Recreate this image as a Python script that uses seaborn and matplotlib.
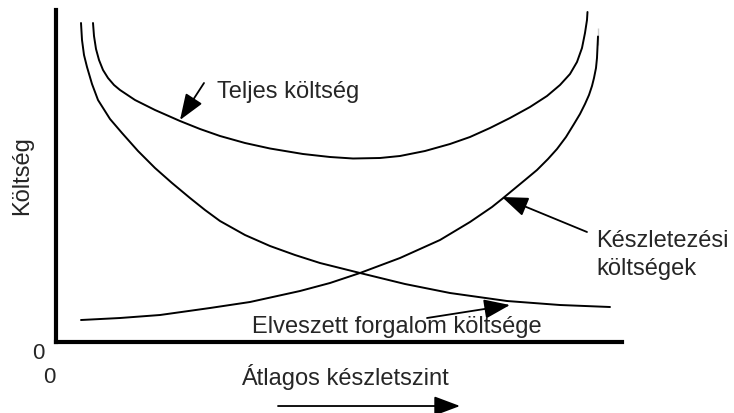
import matplotlib
matplotlib.use('Agg')
import matplotlib.pyplot as plt
import seaborn as sns

# curve values
# x: average inventory level (0-566), y: cost (0-332), arbitrary units
total_x = [37, 38, 40, 43, 47, 52, 58, 64, 79, 99, 124, 144, 164, 189, 214, 247, 274, 297,
           324, 344, 369, 394, 414, 434, 454, 474, 491, 504, 514, 521, 526, 529, 531, 531.5]
total_y = [319, 306, 293, 282, 272, 264, 257, 252, 242, 232, 221, 213, 206, 199, 193.5, 188, 185, 183.5,
           184, 186, 191, 198, 205, 214, 224, 235, 246, 257, 268, 280, 294, 309, 322, 330]

lost_x = [25, 26, 28, 31, 36, 42, 54, 66, 82, 99, 116, 134, 149, 164, 189, 214, 239, 264,
          304, 349, 394, 451, 504, 554]
lost_y = [319, 302, 287, 275, 258, 242, 223, 209, 191, 174, 159, 144, 132, 121, 107, 96, 87, 79,
          69, 58, 49, 41, 37, 35]

carry_x = [25, 64, 104, 154, 194, 244, 274, 304, 344, 384, 414, 436, 446, 469, 481, 492, 501, 510,
           518, 524, 529, 533, 536, 538, 540, 541, 542, 542]
carry_y = [22, 24, 27, 34, 40, 51, 59, 69, 84, 102, 120, 135, 143, 162, 172, 183, 193, 205,
           218, 228, 238, 247, 256, 264, 274, 284, 297, 314]

sns.set_style('white')
plt.rcParams['font.family'] = ['Liberation Sans', 'DejaVu Sans']

fig = plt.figure(figsize=(7.34, 4.13), dpi=100)
ax = fig.add_axes([0.0763, 0.1719, 0.7711, 0.8039])

for xs, ys in [(total_x, total_y), (lost_x, lost_y), (carry_x, carry_y)]:
    sns.lineplot(x=xs, y=ys, color='black', lw=1.4, ax=ax, clip_on=False,
                 solid_joinstyle='round')

ax.set_xlim(0, 566)
ax.set_ylim(0, 332)
ax.set_xticks([])
ax.set_yticks([])
for side in ['top', 'right']:
    ax.spines[side].set_visible(False)
for side in ['left', 'bottom']:
    ax.spines[side].set_linewidth(3)
    ax.spines[side].set_color('black')

# axis labels
ax.set_xlabel('Átlagos készletszint', fontsize=17)
ax.xaxis.set_label_coords(0.51, -0.105)
ax.xaxis.label.set_va('center')
ax.set_ylabel('Költség', fontsize=17)
ax.yaxis.set_label_coords(-0.06, 0.5)
ax.yaxis.label.set_va('center')

ax.text(-18, -11, '0', fontsize=16, ha='center', va='center')
ax.text(-7, -35, '0', fontsize=16, ha='center', va='center')

head = '-|>,head_length=0.8,head_width=0.3'
arrow = dict(arrowstyle=head, mutation_scale=20, color='black', lw=1.3,
             shrinkA=0, shrinkB=0)

ax.annotate('', xy=(124, 222), xytext=(148, 259), arrowprops=arrow)
ax.text(161, 244, 'Teljes költség', fontsize=17, ha='left', va='baseline')

ax.annotate('', xy=(446, 145), xytext=(531, 110), arrowprops=arrow,
            annotation_clip=False)
ax.text(540, 95, 'Készletezési', fontsize=17, ha='left', va='baseline')
ax.text(540, 67, 'költségek', fontsize=17, ha='left', va='baseline')

ax.annotate('', xy=(454, 37), xytext=(371, 24), arrowprops=arrow)
ax.text(196, 9, 'Elveszett forgalom költsége', fontsize=17, ha='left', va='baseline')

# direction arrow under the x label
ax.annotate('', xy=(404, -64), xytext=(222, -64), arrowprops=arrow,
            annotation_clip=False)

plt.savefig('out.png', dpi=100)
